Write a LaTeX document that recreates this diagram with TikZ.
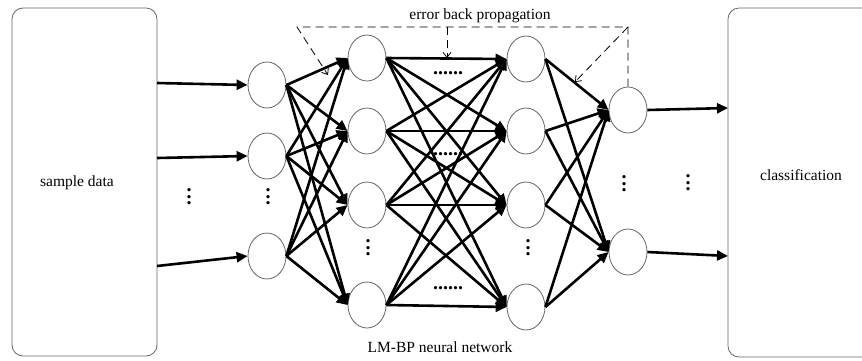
\documentclass[tikz,border=0pt]{standalone}
\usepackage{fontspec}
\setmainfont{Liberation Serif}
\usetikzlibrary{arrows.meta,shapes.geometric}
\newcommand\myvdots{\vbox{\baselineskip6.5pt\lineskiplimit-20pt\hbox{.}\hbox{.}\hbox{.}}}
\begin{document}
\begin{tikzpicture}[x=1pt,y=-1pt,
 neuron/.style={ellipse,draw=black!60,fill=white,line width=0.8pt,minimum width=38pt,minimum height=46pt,inner sep=0pt},
 bigbox/.style={draw=black!60,line width=0.8pt,rounded corners=11pt,inner sep=0pt},
 link/.style={line width=2.6pt,-{Triangle[length=11pt,width=10pt]}},
 back/.style={line width=0.8pt,dash pattern=on 8pt off 5pt,-{Straight Barb[length=5pt,width=8pt]}},
 lbl/.style={font=\fontsize{15.5}{18}\selectfont,inner sep=0pt},
 vdot/.style={font=\fontsize{20}{20}\selectfont\bfseries,inner sep=0pt},
 hdot/.style={font=\fontsize{20}{20}\selectfont\bfseries,inner sep=0pt}]
\useasboundingbox (0,0) rectangle (862,360);
\clip (0,0) rectangle (862,360);
% boxes
\node[bigbox,minimum width=145pt,minimum height=348pt] (src) at (84.5,182) {};
\node[lbl] (srcl) at (77,183) {sample data};
\node[bigbox,minimum width=147pt,minimum height=349pt] (dst) at (801.5,182.5) {};
\node[lbl] (dstl) at (801,175) {classification};
% neurons
\node[neuron] (a1) at (267,85) {};
\node[neuron] (a2) at (267,156) {};
\node[neuron] (a3) at (267,256) {};
\node[neuron] (b1) at (367,58) {};
\node[neuron] (b2) at (367,131) {};
\node[neuron] (b3) at (367,205) {};
\node[neuron] (b4) at (367,305) {};
\node[neuron] (c1) at (526,59) {};
\node[neuron] (c2) at (526,131) {};
\node[neuron] (c3) at (526,205) {};
\node[neuron] (c4) at (526,307) {};
\node[neuron] (d1) at (628,110) {};
\node[neuron] (d2) at (628,252) {};
% inputs
\coordinate (s1) at (157,83);
\coordinate (s2) at (157,158);
\coordinate (s3) at (157,266);
\draw[link] (s1) -- (a1.west);
\draw[link] (s2) -- (a2.west);
\draw[link] (s3) -- (a3.west);
% outputs
\coordinate (o1) at (728,108);
\coordinate (o2) at (728,256);
\draw[link] (d1.east) -- (o1);
\draw[link] (d2.east) -- (o2);
% layer connections
\foreach \i in {a1,a2,a3}
  \foreach \j in {b1,b2,b3,b4}
    \draw[link] (\i.east) -- (\j.west);
\foreach \i in {b1,b2,b3,b4}
  \foreach \j in {c1,c2,c3,c4}
    \draw[link] (\i.east) -- (\j.west);
\foreach \i in {c1,c2,c3,c4}
  \foreach \j in {d1,d2}
    \draw[link] (\i.east) -- (\j.west);
% dots
\node[vdot] (v0) at (189,197) {\myvdots};
\node[vdot] (v1) at (268,197) {\myvdots};
\node[vdot] (v2) at (368,248) {\myvdots};
\node[vdot] (v3) at (528,248) {\myvdots};
\node[vdot] (v4) at (624,184) {\myvdots};
\node[vdot] (v5) at (688,183) {\myvdots};
\node[hdot] (h1) at (448,73) {......};
\node[hdot] (h2) at (448,154) {......};
\node[hdot] (h3) at (448,288) {......};
% error back propagation
\node[lbl] (ebp) at (480,16) {error back propagation};
\coordinate (eL) at (297,27);
\coordinate (eR) at (628,27);
\coordinate (eM) at (447,27);
\coordinate (tL) at (328,75);
\coordinate (tM) at (447,58);
\coordinate (tR) at (575,82);
\draw[back] (d1.north) -- (eR) -- (eL) -- (tL);
\draw[back] (eR) -- (tR);
\draw[back] (eM) -- (tM);
% caption
\node[lbl] (cap) at (440,347) {LM-BP neural network};
\end{tikzpicture}
\end{document}
